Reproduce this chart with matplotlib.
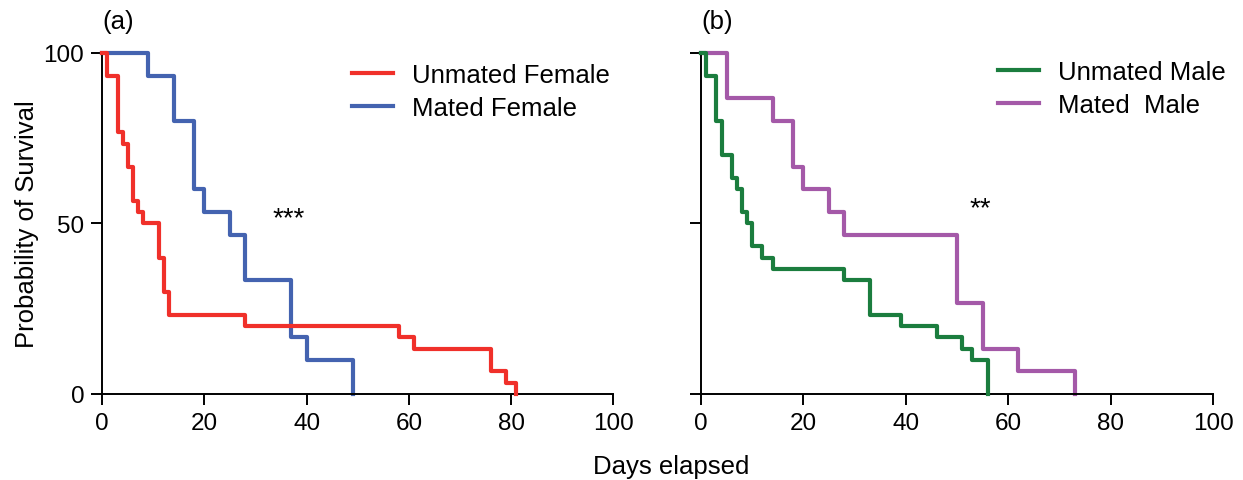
import matplotlib
matplotlib.use('Agg')
import matplotlib.pyplot as plt

plt.rcParams['font.family'] = ['Liberation Sans', 'DejaVu Sans']
plt.rcParams['font.size'] = 17.5

# Kaplan-Meier steps: days and percent surviving
unmated_female_days = [0, 1, 3, 4, 5, 6, 7, 8, 11, 12, 13, 28, 58, 61, 76, 79, 81]
unmated_female_surv = [100, 93.3, 76.7, 73.3, 66.7, 56.7, 53.3, 50, 40, 30, 23.3, 20, 16.7, 13.3, 6.7, 3.3, 0]
mated_female_days = [0, 9, 14, 18, 20, 25, 28, 37, 40, 49]
mated_female_surv = [100, 93.3, 80, 60, 53.3, 46.7, 33.3, 16.7, 10, 0]

unmated_male_days = [0, 1, 3, 4, 6, 7, 8, 9, 10, 12, 14, 28, 33, 39, 46, 51, 53, 56]
unmated_male_surv = [100, 93.3, 80, 70, 63.3, 60, 53.3, 50, 43.3, 40, 36.7, 33.3, 23.3, 20, 16.7, 13.3, 10, 0]
mated_male_days = [0, 5, 14, 18, 20, 25, 28, 50, 55, 62, 73]
mated_male_surv = [100, 86.7, 80, 66.7, 60, 53.3, 46.7, 26.7, 13.3, 6.7, 0]

xticks = [0, 20, 40, 60, 80, 100]
yticks = [0, 50, 100]

fig = plt.figure(figsize=(12.43, 4.81), dpi=100)
ax1 = fig.add_axes([0.0823, 0.1788, 0.4111, 0.709])
ax2 = fig.add_axes([0.5640, 0.1788, 0.4119, 0.709])

def style_axis(ax, show_ylabels=True):
    ax.set_xlim(0, 100)
    ax.set_ylim(0, 100)
    ax.set_xticks(xticks)
    ax.set_yticks(yticks)
    if not show_ylabels:
        ax.set_yticklabels([])
    ax.spines['right'].set_visible(False)
    ax.spines['top'].set_visible(False)
    for s in ['left', 'bottom']:
        ax.spines[s].set_linewidth(1.4)
    ax.tick_params(direction='out', length=8, width=1.4, pad=5)

leg_kw = dict(loc='upper left', frameon=False, handlelength=1.6, handletextpad=0.75,
              labelspacing=0.35, borderaxespad=0, fontsize=18.5)

ax1.step(unmated_female_days, unmated_female_surv, where='post', color='#F0302A', lw=3, clip_on=False, label='Unmated Female', zorder=3)
ax1.step(mated_female_days, mated_female_surv, where='post', color='#4463B0', lw=3, clip_on=False, label='Mated Female', zorder=2)
style_axis(ax1)
ax1.set_ylabel('Probability of Survival', labelpad=3, fontsize=18.5)
ax1.text(36.5, 51.5, '***', ha='center', va='center', fontsize=20)
ax1.text(0, 1.06, '(a)', transform=ax1.transAxes, ha='left', va='bottom', fontsize=18.5)
ax1.legend(bbox_to_anchor=(0.468, 1.0), **leg_kw)

ax2.step(unmated_male_days, unmated_male_surv, where='post', color='#1B7D3E', lw=3, clip_on=False, label='Unmated Male', zorder=3)
ax2.step(mated_male_days, mated_male_surv, where='post', color='#A459A8', lw=3, clip_on=False, label='Mated  Male', zorder=2)
style_axis(ax2, show_ylabels=False)
ax2.text(54.5, 54.5, '**', ha='center', va='center', fontsize=20)
ax2.text(0, 1.06, '(b)', transform=ax2.transAxes, ha='left', va='bottom', fontsize=18.5)
ax2.legend(bbox_to_anchor=(0.56, 1.01), **leg_kw)

fig.text(671 / 1243, 1 - 467 / 481, 'Days elapsed', ha='center', va='center', fontsize=18.5)

fig.savefig('out.png', dpi=100, facecolor='white')
